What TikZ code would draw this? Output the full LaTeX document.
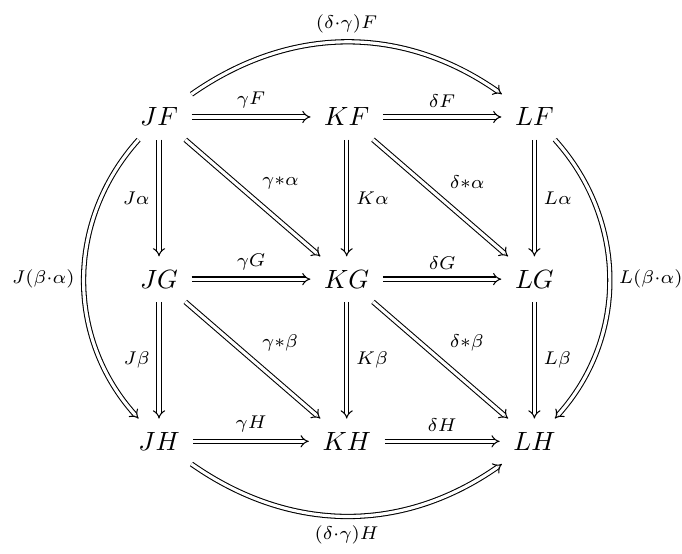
\documentclass[tikz,border=0pt]{standalone}
\usepackage{amsmath,amssymb}
\usetikzlibrary{arrows.meta,positioning,calc}
\tikzset{
  % object of the diagram
  obj/.style={inner sep=5pt},
  % 2-cell: double arrow with implies tip
  dcell/.style={double, double distance=1.2pt, -{Implies}},
  % arrow label
  lab/.style={font=\scriptsize, auto},
}
\begin{document}
\begin{tikzpicture}
  \useasboundingbox (-2.118,1.558) rectangle (6.966,-5.82);

  % objects
  \node[obj] (JF) at (0,0) {$JF$};
  \node[obj] (KF) at (2.5,0) {$KF$};
  \node[obj] (LF) at (5.0,0) {$LF$};
  \node[obj] (JG) at (0,-2.16) {$JG$};
  \node[obj] (KG) at (2.5,-2.16) {$KG$};
  \node[obj] (LG) at (5.0,-2.16) {$LG$};
  \node[obj] (JH) at (0,-4.32) {$JH$};
  \node[obj] (KH) at (2.5,-4.32) {$KH$};
  \node[obj] (LH) at (5.0,-4.32) {$LH$};

  % horizontal
  \draw[dcell] (JF) -- node[lab]{$\gamma F$} (KF);
  \draw[dcell] (KF) -- node[lab]{$\delta F$} (LF);
  \draw[dcell] (JG) -- node[lab]{$\gamma G$} (KG);
  \draw[dcell] (KG) -- node[lab]{$\delta G$} (LG);
  \draw[dcell] (JH) -- node[lab]{$\gamma H$} (KH);
  \draw[dcell] (KH) -- node[lab]{$\delta H$} (LH);

  % vertical
  \draw[dcell] (JF) -- node[lab,swap]{$J\alpha$} (JG);
  \draw[dcell] (JG) -- node[lab,swap]{$J\beta$} (JH);
  \draw[dcell] (KF) -- node[lab]{$K\alpha$} (KG);
  \draw[dcell] (KG) -- node[lab]{$K\beta$} (KH);
  \draw[dcell] (LF) -- node[lab]{$L\alpha$} (LG);
  \draw[dcell] (LG) -- node[lab]{$L\beta$} (LH);

  % diagonals
  \draw[dcell] (JF) -- node[lab]{$\gamma{*}\alpha$} (KG);
  \draw[dcell] (JG) -- node[lab]{$\gamma{*}\beta$} (KH);
  \draw[dcell] (KF) -- node[lab]{$\delta{*}\alpha$} (LG);
  \draw[dcell] (KG) -- node[lab]{$\delta{*}\beta$} (LH);

  % outer composites
  \draw[dcell] (JF) to[bend left=35] node[lab]{$(\delta{\cdot}\gamma)F$} (LF);
  \draw[dcell] (JH) to[bend right=35] node[lab,swap]{$(\delta{\cdot}\gamma)H$} (LH);
  \draw[dcell] (JF) to[bend right=42] node[lab,swap]{$J(\beta{\cdot}\alpha)$} (JH);
  \draw[dcell] (LF) to[bend left=42] node[lab]{$L(\beta{\cdot}\alpha)$} (LH);
\end{tikzpicture}
\end{document}
